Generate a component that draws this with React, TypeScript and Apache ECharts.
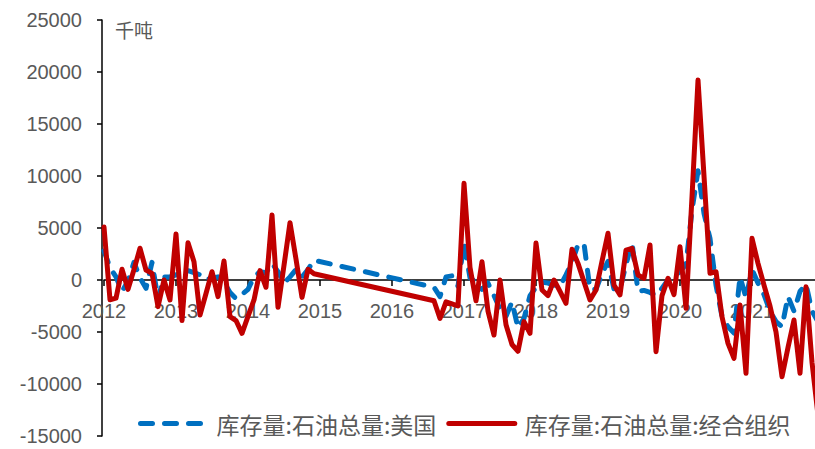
import React, { useEffect, useRef } from "react";
import * as echarts from "echarts";

// Monthly observations (gap between 2014-12 and 2016-08 in the source data)
const dates: string[] = [
  "2012-01","2012-02","2012-03","2012-04","2012-05","2012-06","2012-07","2012-08","2012-09","2012-10","2012-11","2012-12",
  "2013-01","2013-02","2013-03","2013-04","2013-05","2013-06","2013-07","2013-08","2013-09","2013-10","2013-11","2013-12",
  "2014-01","2014-02","2014-03","2014-04","2014-05","2014-06","2014-07","2014-08","2014-09","2014-10","2014-11","2014-12",
  "2016-08","2016-09","2016-10","2016-11","2016-12",
  "2017-01","2017-02","2017-03","2017-04","2017-05","2017-06","2017-07","2017-08","2017-09","2017-10","2017-11","2017-12",
  "2018-01","2018-02","2018-03","2018-04","2018-05","2018-06","2018-07","2018-08","2018-09","2018-10","2018-11","2018-12",
  "2019-01","2019-02","2019-03","2019-04","2019-05","2019-06","2019-07","2019-08","2019-09","2019-10","2019-11","2019-12",
  "2020-01","2020-02","2020-03","2020-04","2020-05","2020-06","2020-07","2020-08","2020-09","2020-10","2020-11","2020-12",
  "2021-01","2021-02","2021-03","2021-04","2021-05","2021-06","2021-07","2021-08","2021-09","2021-10","2021-11","2021-12",
];

// 库存量:石油总量:美国 (千吨)
const usValues: number[] = [
  2800, 1200, 300, -1100, -100, 1700, 200, -800, 1700, -1800, 300, 300,
  500, 700, 900, 700, 500, 0, 200, 300, -200, -1200, -1800, -1400,
  -900, 300, 800, 700, 1600, 800, -300, 300, 1000, 300, 1000, 1900,
  -700, -1600, 300, 400, -600,
  3600, 200, -200, -900, -300, -1500, -2800, -3500, -2100, -4600, -3700, -1500,
  -700, -200, -300, -500, -600, 500, 1700, 3400, 3500, -900, -900, 600,
  1800, -900, -900, 1500, 3600, -1100, -1000, -1200, -1500, -800, 0, 300,
  800, 1500, 6700, 10500, 6400, 4000, -500, -3500, -4500, -5100, 300, -1700,
  1000, -300, -1400, -3000, -4000, -4500, -1600, -3000, -1100, -400, -3000, -4000,
];

// 库存量:石油总量:经合组织 (千吨)
const oecdValues: number[] = [
  5100, -1900, -1750, 1030, -900, 1000, 3050, 960, 640, -2560, 0, -1920,
  4420, -3900, 3590, 1760, -3370, -1300, 800, -1600, 1830, -3530, -3900, -5130,
  -3500, -1920, 900, -700, 6250, -2630, 1400, 5510, 2000, -1670, 1030, 600,
  -2000, -3700, -2100, -2300, -2500,
  9300, 1200, -2000, 1760, -3000, -5290, 0, -4300, -6200, -6850, -4000, -5130,
  3560, -960, -1500, 0, -1100, -2240, 2950, 1600, -160, -1920, -960, 1800,
  4490, -480, -1440, 2880, 3050, 480, 160, 3370, -6890, -1500, 160, -1400,
  3200, -2720, 8000, 19230, 10000, 640, 800, -3530, -6090, -7530, -2400, -8970,
  4010, 1600, -500, -2500, -5000, -9300, -6500, -3850, -8970, -640, -7900, -13000,
];

const seriesNames = ["库存量:石油总量:美国", "库存量:石油总量:经合组织"];
const unitLabel = "千吨";
const yMin = -15000;
const yMax = 25000;
const xStartYear = 2012;
const xEndYear = 2012 + 118.5 / 12; // visible window ends just before the last month

const toYear = (d: string) => {
  const [y, m] = d.split("-").map(Number);
  return y + (m - 1) / 12;
};

export default function App() {
  const ref = useRef<HTMLDivElement>(null);
  useEffect(() => {
    if (!ref.current) return;
    const chart = echarts.init(ref.current, null, { renderer: "svg" });
    const xs = dates.map(toYear);
    const labelColor = "#595959";
    const gridTop = 20;
    const gridBottom = 13;
    const gridHeight = 449 - gridTop - gridBottom;
    // shift the date axis from the grid bottom up to the zero line
    const zeroOffset = -gridHeight * (0 - yMin) / (yMax - yMin);
    chart.setOption({
      animation: false,
      grid: {
        left: 104,
        right: 0,
        top: gridTop,
        bottom: gridBottom,
        containLabel: false,
        outerBoundsMode: "none",
      },
      xAxis: {
        type: "value",
        min: xStartYear,
        max: xEndYear,
        interval: 1,
        offset: zeroOffset,
        axisLine: { show: true, onZero: false, lineStyle: { color: "#000", width: 1.5 } },
        axisTick: { show: true, inside: false, length: 6, lineStyle: { color: "#000", width: 1.5 } },
        splitLine: { show: false },
        axisLabel: {
          showMaxLabel: false,
          margin: 21,
          color: labelColor,
          fontSize: 20,
          fontFamily: "Liberation Sans",
          formatter: (v: number) => {
            const r = Math.round(v);
            return Math.abs(v - r) < 1e-6 ? String(r) : "";
          },
        },
      },
      yAxis: {
        type: "value",
        min: yMin,
        max: yMax,
        interval: 5000,
        offset: 2,
        axisLine: { show: true, onZero: false, lineStyle: { color: "#000", width: 1.5 } },
        axisTick: { show: true, inside: false, length: 5, lineStyle: { color: "#000", width: 1.5 } },
        splitLine: { show: false },
        axisLabel: {
          margin: 20,
          color: labelColor,
          fontSize: 20,
          fontFamily: "Liberation Sans",
          formatter: (v: number) => String(v),
        },
      },
      legend: {
        left: 133,
        top: 407,
        itemWidth: 66,
        itemHeight: 14,
        itemGap: 10,
        itemStyle: { opacity: 0 },
        lineStyle: { width: 5, cap: "round" },
        textStyle: {
          color: labelColor,
          fontSize: 23,
          fontFamily: "Noto Sans CJK SC",
          padding: [0, 0, 0, 5],
        },
        data: seriesNames,
      },
      graphic: [
        {
          type: "text",
          left: 115,
          top: 20,
          style: {
            text: unitLabel,
            fill: labelColor,
            fontSize: 19,
            fontFamily: "Noto Sans CJK SC",
          },
        },
      ],
      series: [
        {
          name: seriesNames[0],
          type: "line",
          data: xs.map((x, i) => [x, usValues[i]]),
          showSymbol: false,
          symbol: "none",
          clip: true,
          lineStyle: { color: "#0070C0", width: 5, type: [12, 12], cap: "round", join: "round" },
          itemStyle: { color: "#0070C0" },
        },
        {
          name: seriesNames[1],
          type: "line",
          data: xs.map((x, i) => [x, oecdValues[i]]),
          showSymbol: false,
          symbol: "none",
          clip: true,
          lineStyle: { color: "#C00000", width: 5, cap: "round", join: "round" },
          itemStyle: { color: "#C00000" },
        },
      ],
    });
    return () => chart.dispose();
  }, []);
  return (
    <div
      ref={ref}
      style={{ position: "fixed", left: 0, top: 0, width: 815, height: 449, background: "#fff" }}
    />
  );
}
